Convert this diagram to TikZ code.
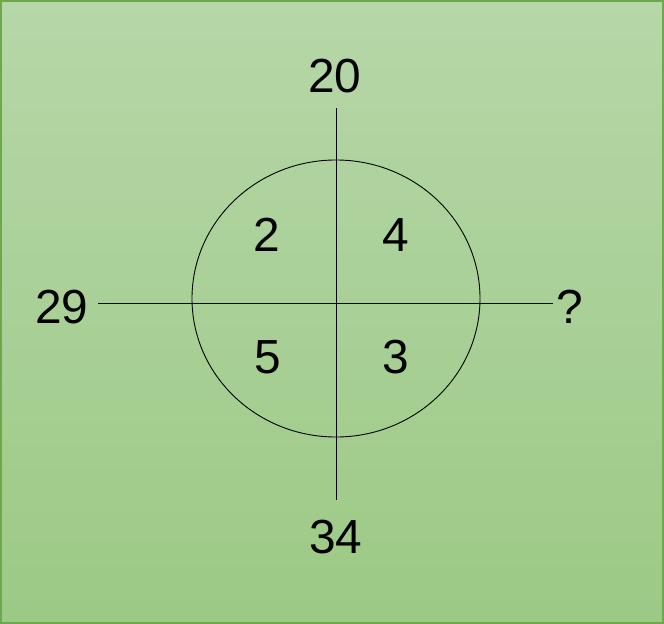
\documentclass[tikz,border=0pt]{standalone}
\usepackage{fontspec}
\setmainfont{Liberation Sans}
\usetikzlibrary{shapes.geometric}
\definecolor{bgtop}{HTML}{B6D7A8}
\definecolor{bgbot}{HTML}{9CC985}
\definecolor{bord}{HTML}{6AAA4A}
\begin{document}
\begin{tikzpicture}[x=1bp,y=-1bp,
  num/.style={font=\fontsize{48}{52}\selectfont, inner sep=0pt},
  ln/.style={draw=black, line width=0.9bp}]
\useasboundingbox (0,0) rectangle (664,624);
\shade[top color=bgtop, bottom color=bgbot] (0,0) rectangle (664,624);
\draw[bord, line width=2bp] (1,1) rectangle (663,623);
\node[ellipse, draw, line width=0.9bp, minimum width=288bp, minimum height=277bp, inner sep=0pt] (circ) at (336,298.5) {};
\coordinate (vt) at (336,108);
\coordinate (vb) at (336,500);
\coordinate (hl) at (98,303);
\coordinate (hr) at (553,303);
\draw[ln] (vt) -- (vb);
\draw[ln] (hl) -- (hr);
\node[num] (n20) at (335,76) {20};
\node[num] (n34) at (336,537) {34};
\node[num] (n29) at (62,307) {29};
\node[num] (nq) at (570,307) {?};
\node[num] (a) at (267,235) {2};
\node[num] (b) at (396,235) {4};
\node[num] (c) at (268,357) {5};
\node[num] (d) at (396,357) {3};
\end{tikzpicture}
\end{document}
